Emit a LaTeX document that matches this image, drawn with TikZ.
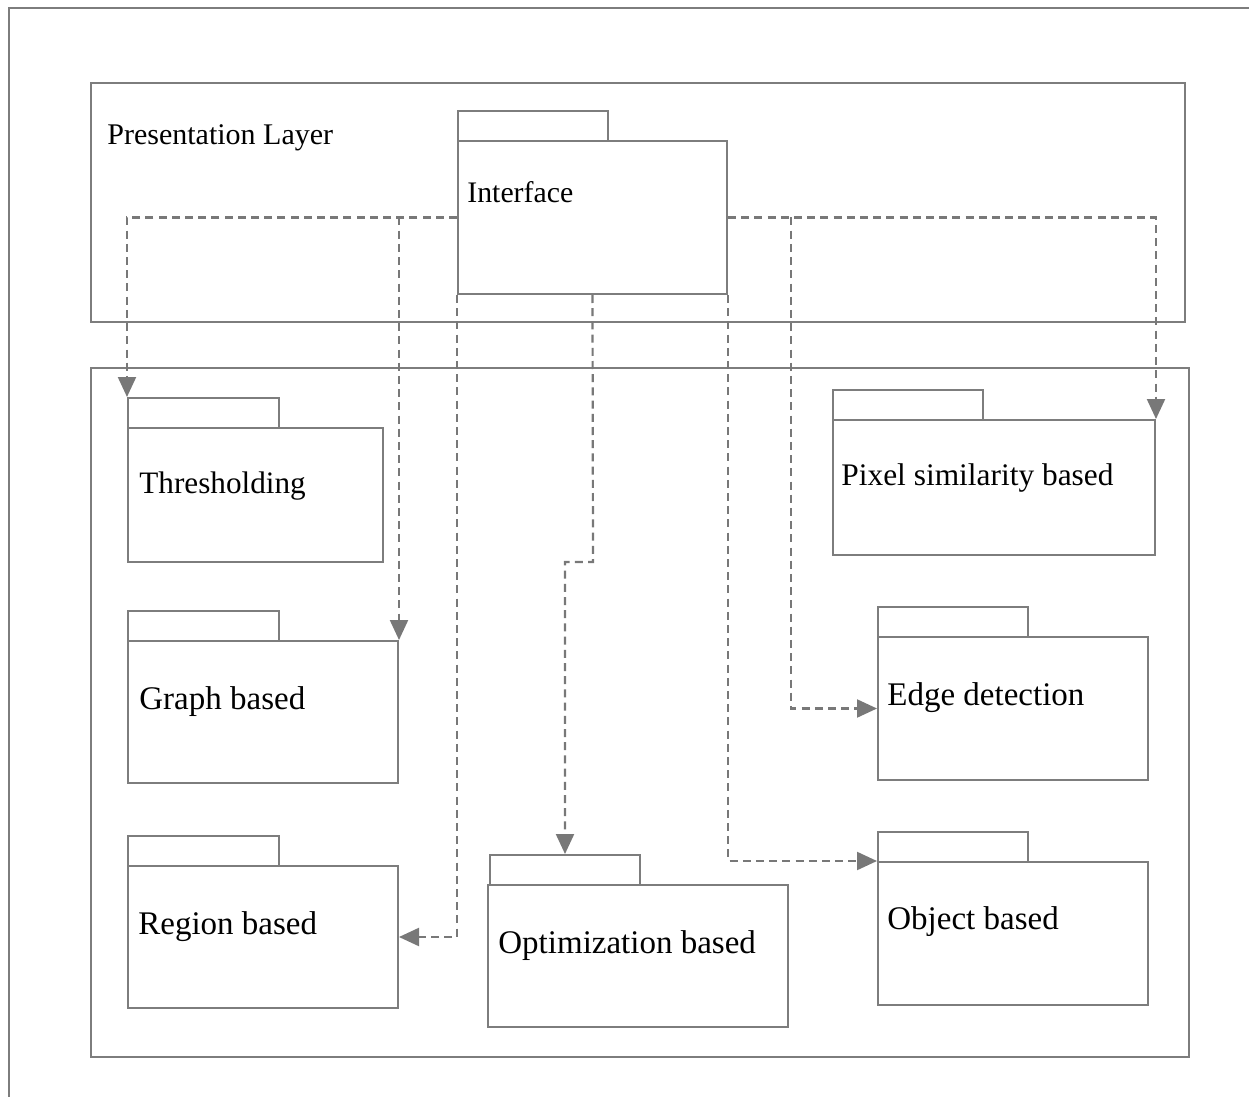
\documentclass[tikz,border=0pt]{standalone}
\usepackage{fontspec}
\setmainfont{Liberation Serif}
\usetikzlibrary{fit,arrows.meta}
\definecolor{ln}{RGB}{125,125,125}
\definecolor{dl}{RGB}{120,120,120}
\tikzset{
  box/.style={draw=ln, line width=1pt, inner sep=0pt, fill=none},
  lbl/.style={anchor=base west, inner sep=0pt, font=\fontsize{16.5}{19}\selectfont},
  dep/.style={draw=dl, line width=1.1pt, dash pattern=on 4pt off 2.6pt,
    -{Triangle[length=10pt,width=9pt,fill=dl]}}
}
\begin{document}
\begin{tikzpicture}[x=0.5pt,y=-0.5pt]
\useasboundingbox (0,0) rectangle (1249,1097);
% outer frame (partially visible)
\draw[ln, line width=1pt] (9,1097) -- (9,8) -- (1249,8);
% layers
\node[box, fit={(91,83) (1185,322)}] (pres) {};
\node[lbl, font=\fontsize{15}{18}\selectfont] (presl) at (107,145) {Presentation Layer};
\node[box, fit={(91,368) (1189,1057)}] (lower) {};
% Interface package
\node[box, fit={(458,111) (608,141)}] (ifctab) {};
\node[box, fit={(458,141) (727,294)}] (ifc) {};
\node[lbl, font=\fontsize{14.9}{18}\selectfont] (ifcl) at (467,203) {Interface};
% Thresholding
\node[box, fit={(128,398) (279,428)}] (thrtab) {};
\node[box, fit={(128,428) (383,562)}] (thr) {};
\node[lbl, font=\fontsize{15.6}{18}\selectfont] (thrl) at (139,493) {Thresholding};
% Graph based
\node[box, fit={(128,611) (279,641)}] (grtab) {};
\node[box, fit={(128,641) (398,783)}] (gr) {};
\node[lbl] (grl) at (139,709) {Graph based};
% Region based
\node[box, fit={(128,836) (279,866)}] (regtab) {};
\node[box, fit={(128,866) (398,1008)}] (reg) {};
\node[lbl] (regl) at (138,934) {Region based};
% Optimization based
\node[box, fit={(490,855) (640,885)}] (opttab) {};
\node[box, fit={(488,885) (788,1027)}] (opt) {};
\node[lbl] (optl) at (498,953) {Optimization based};
% Pixel similarity based
\node[box, fit={(833,390) (983,420)}] (pixtab) {};
\node[box, fit={(833,420) (1155,555)}] (pix) {};
\node[lbl, font=\fontsize{15.7}{18}\selectfont] (pixl) at (841,485) {Pixel similarity based};
% Edge detection
\node[box, fit={(878,607) (1028,637)}] (edgetab) {};
\node[box, fit={(878,637) (1148,780)}] (edge) {};
\node[lbl] (edgel) at (887,705) {Edge detection};
% Object based
\node[box, fit={(878,832) (1028,862)}] (objtab) {};
\node[box, fit={(878,862) (1148,1005)}] (obj) {};
\node[lbl] (objl) at (887,929) {Object based};
% connectors
\coordinate (ej) at (791,217.5);
\coordinate (oj) at (593,562);
\draw[dep] (ifc.west) -| (thrtab.north west);
\draw[dep] (gr.north east |- ifc.west) -- (gr.north east);
\draw[dep] (ifc.south west) |- (reg.east);
\draw[dep] (ifc.south) -- (oj) -| (opttab.north);
\draw[dep] (ifc.south east) |- (obj.north west);
\draw[dep] (ifc.east) -| (pix.north east);
\draw[dep] (ej) |- (edge.west);
\end{tikzpicture}
\end{document}
